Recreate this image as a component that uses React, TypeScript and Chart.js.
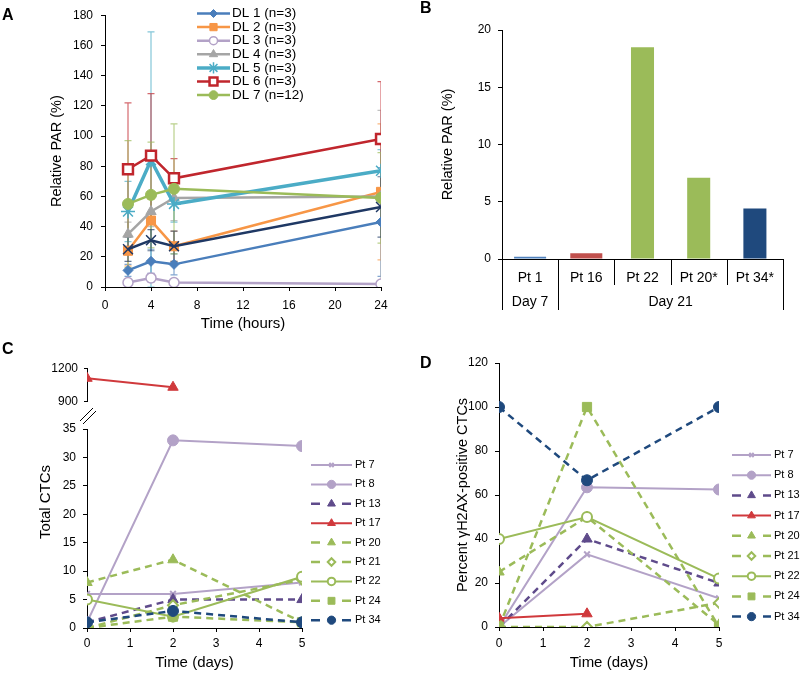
import React, { useEffect, useRef } from 'react';
import { Chart, registerables } from 'chart.js';
import { drawPoint } from 'chart.js/helpers';

Chart.register(...registerables);
const FONT = "'Liberation Sans', Arial, Helvetica, sans-serif";
Chart.defaults.font.family = FONT;
Chart.defaults.color = '#000';

// ---------------- Panel A data ----------------
const hours = [2, 4, 6, 24];
const dlLabels = ['DL 1 (n=3)', 'DL 2 (n=3)', 'DL 3 (n=3)', 'DL 4 (n=3)', 'DL 5 (n=3)', 'DL 6 (n=3)', 'DL 7 (n=12)', 'DL 8'];
const dl1 = [11, 17, 15, 43];
const dl1Err = [4, 8, 7, 36];
const dl2 = [24, 44, 27, 63];
const dl2Err = [10, 14, 10, 45];
const dl3 = [3, 6, 3, 2];
const dl3Err = [1, 3, 1, 2];
const dl4 = [35, 50, 59, 60];
const dl4Err = [8, 10, 15, 57];
const dl5 = [50, 84, 55, 77];
const dl5Err = [20, 85, 12, 14];
const dl6 = [78, 87, 72, 98];
const dl6Err = [44, 41, 13, 38];
const dl7 = [55, 61, 65, 59];
const dl7Err = [42, 35, 43, 30];
const dl8 = [25, 31, 27, 53];
const dl8Err = [8, 7, 10, 20];
const aXRange = [0, 24, 4];
const aYRange = [0, 180, 20];

// ---------------- Panel B data ----------------
const bLabels = ['Pt 1', 'Pt 16', 'Pt 22', 'Pt 20*', 'Pt 34*'];
const bValues = [0.2, 0.5, 18.5, 7.1, 4.4];
const bGroups = [{ label: 'Day 7', span: 1 }, { label: 'Day 21', span: 4 }];
const bYRange = [0, 20, 5];

// ---------------- Panel C / D data ----------------
const days = [0, 2, 5];
const ptLabels = ['Pt 7', 'Pt 8', 'Pt 13', 'Pt 17', 'Pt 20', 'Pt 21', 'Pt 22', 'Pt 24', 'Pt 34'];
const ctcPt7 = [6, 6, 8];
const ctcPt8 = [1, 33, 32];
const ctcPt13 = [1, 5, 5];
const ctcPt17 = [1110, 1030, null];
const ctcPt20 = [8, 12, 1];
const ctcPt21 = [0, 4, 8.5];
const ctcPt22 = [5, 2, 9];
const ctcPt24 = [0, 2, 1];
const ctcPt34 = [1, 3, 1];
const ctcLowRange = [0, 35, 5];
const ctcHighRange = [900, 1200, 300];

const ghPt7 = [0, 33, 13];
const ghPt8 = [0, 63.5, 62.5];
const ghPt13 = [0, 40, 20];
const ghPt17 = [4, 6, null];
const ghPt20 = [25, 50, 1];
const ghPt21 = [0, 0, 11];
const ghPt22 = [40, 50, 22];
const ghPt24 = [0, 100, 0];
const ghPt34 = [100, 66.7, 100];
const dayRange = [0, 5, 1];
const ghRange = [0, 120, 20];

// ---------------- styles ----------------
const aStyles: any[] = [
  { color: '#4A7EBB', fill: '#4A7EBB', point: 'rectRot', r: 5, lw: 2.5, pbw: 1 },
  { color: '#F79646', fill: '#F79646', point: 'rect', r: 6.4, lw: 2.5, pbw: 1 },
  { color: '#B3A2C7', fill: '#FFFFFF', point: 'circle', r: 5, lw: 2.5, pbw: 1.5 },
  { color: '#A5A5A5', fill: '#A5A5A5', point: 'triangle', r: 6, lw: 2.5, pbw: 1 },
  { color: '#4BACC6', fill: '#4BACC6', point: 'star', r: 7, lw: 3.5, pbw: 1.5 },
  { color: '#C0262D', fill: '#FFFFFF', point: 'rect', r: 7, lw: 2.5, pbw: 2.5 },
  { color: '#9BBB59', fill: '#9BBB59', point: 'circle', r: 5.5, lw: 2.5, pbw: 1 },
  { color: '#1F3864', fill: '#1F3864', point: 'crossRot', r: 7, lw: 2.5, pbw: 1.5, noLegend: true },
];
const DASH = [7, 5];
const ptStyles: any[] = [
  { color: '#B3A2C7', fill: '#B3A2C7', point: 'crossRot', r: 4, lw: 2, pbw: 2 },
  { color: '#B3A2C7', fill: '#B3A2C7', point: 'circle', r: 5.5, lw: 2, pbw: 1 },
  { color: '#5F4B8B', fill: '#5F4B8B', point: 'triangle', r: 6, lw: 2.5, pbw: 1, dash: DASH },
  { color: '#D0393C', fill: '#D0393C', point: 'triangle', r: 6, lw: 2, pbw: 1 },
  { color: '#9BBB59', fill: '#9BBB59', point: 'triangle', r: 6, lw: 2.5, pbw: 1, dash: DASH },
  { color: '#9BBB59', fill: '#FFFFFF', point: 'rectRot', r: 5, lw: 2.5, pbw: 2, dash: DASH },
  { color: '#9BBB59', fill: '#FFFFFF', point: 'circle', r: 5, lw: 2, pbw: 2 },
  { color: '#9BBB59', fill: '#9BBB59', point: 'rect', r: 6.5, lw: 2.5, pbw: 1, dash: DASH },
  { color: '#1F497D', fill: '#1F497D', point: 'circle', r: 5.5, lw: 2.5, pbw: 1, dash: DASH },
];
const bColors = ['#4F81BD', '#C0504D', '#9BBB59', '#9BBB59', '#1F497D'];

// ---------------- helpers ----------------
function lineDs(label: string, xs: number[], ys: any[], st: any, i: number, n: number, extra: any = {}) {
  return {
    label,
    data: xs.map((x, k) => ({ x, y: ys[k] })),
    borderColor: st.color,
    backgroundColor: st.fill,
    borderWidth: st.lw,
    borderDash: st.dash || [],
    pointStyle: st.point,
    pointRadius: st.r,
    pointHoverRadius: st.r,
    pointBackgroundColor: st.fill,
    pointBorderColor: st.color,
    pointBorderWidth: st.pbw,
    order: n - i,
    noLegend: !!st.noLegend,
    legendDash: st.dash ? [9, 22] : [],
    tension: 0,
    ...extra,
  };
}

const xlLegend = {
  id: 'xlLegend',
  afterDraw(chart: any, _a: any, o: any) {
    if (!o || o.x === undefined) return;
    const ctx = chart.ctx;
    let k = 0;
    chart.data.datasets.forEach((ds: any) => {
      if (ds.noLegend) return;
      const y = o.y + k * o.spacing;
      k++;
      ctx.save();
      ctx.strokeStyle = ds.borderColor;
      ctx.lineWidth = ds.borderWidth;
      ctx.setLineDash(ds.legendDash || []);
      ctx.beginPath();
      ctx.moveTo(o.x, y);
      ctx.lineTo(o.x + o.lineLen, y);
      ctx.stroke();
      ctx.setLineDash([]);
      ctx.fillStyle = ds.pointBackgroundColor;
      ctx.strokeStyle = ds.pointBorderColor;
      ctx.lineWidth = ds.pointBorderWidth;
      drawPoint(ctx, { pointStyle: ds.pointStyle, radius: ds.pointRadius * o.ptScale, rotation: 0, borderWidth: ds.pointBorderWidth } as any, o.x + o.lineLen / 2, y);
      ctx.fillStyle = '#000';
      ctx.font = `${o.fontSize}px ${FONT}`;
      ctx.textAlign = 'left';
      ctx.textBaseline = 'middle';
      ctx.fillText(ds.label, o.x + o.lineLen + o.gap, y);
      ctx.restore();
    });
  },
};

const errBars = {
  id: 'errBars',
  beforeDatasetsDraw(chart: any) {
    const { ctx, chartArea, scales } = chart;
    const xs = scales.x, ys = scales.y;
    ctx.save();
    ctx.beginPath();
    ctx.rect(chartArea.left, chartArea.top, chartArea.width, chartArea.height);
    ctx.clip();
    chart.data.datasets.forEach((ds: any) => {
      if (!ds.errorBars) return;
      ctx.strokeStyle = ds.errColor;
      ctx.lineWidth = 1.2;
      ds.data.forEach((p: any, i: number) => {
        const e = ds.errorBars[i];
        const px = xs.getPixelForValue(p.x);
        const yt = ys.getPixelForValue(p.y + e);
        const yb = ys.getPixelForValue(Math.max(0, p.y - e));
        ctx.beginPath();
        ctx.moveTo(px, yt); ctx.lineTo(px, yb);
        ctx.moveTo(px - 3.5, yt); ctx.lineTo(px + 3.5, yt);
        ctx.moveTo(px - 3.5, yb); ctx.lineTo(px + 3.5, yb);
        ctx.stroke();
      });
    });
    ctx.restore();
  },
};

const bGroupPlugin = {
  id: 'bGroups',
  afterDraw(chart: any) {
    const { ctx, scales } = chart;
    const x = scales.x;
    const n = bLabels.length;
    const half = (x.getPixelForValue(1) - x.getPixelForValue(0)) / 2;
    const edge = (i: number) => (i === n ? x.getPixelForValue(n - 1) + half : x.getPixelForValue(i) - half);
    const y0 = x.top;
    const groupEdges = new Set<number>([0]);
    let acc = 0;
    bGroups.forEach((g) => { acc += g.span; groupEdges.add(acc); });
    ctx.save();
    ctx.strokeStyle = '#000';
    ctx.lineWidth = 1;
    for (let i = 0; i <= n; i++) {
      const px = Math.round(edge(i)) + 0.5;
      ctx.beginPath();
      ctx.moveTo(px, y0);
      ctx.lineTo(px, y0 + (groupEdges.has(i) ? 51 : 26));
      ctx.stroke();
    }
    ctx.fillStyle = '#000';
    ctx.font = `14px ${FONT}`;
    ctx.textAlign = 'center';
    ctx.textBaseline = 'middle';
    acc = 0;
    bGroups.forEach((g) => {
      ctx.fillText(g.label, (edge(acc) + edge(acc + g.span)) / 2, y0 + 43);
      acc += g.span;
    });
    ctx.restore();
  },
};

const breakPlugin = {
  id: 'breakMarks',
  afterDraw(chart: any) {
    const { ctx, chartArea } = chart;
    const l = chartArea.left, t = chartArea.top;
    ctx.save();
    ctx.strokeStyle = '#000';
    ctx.lineWidth = 1;
    [0, 3].forEach((d) => {
      ctx.beginPath();
      ctx.moveTo(l - 7 + d, t - 8 + d);
      ctx.lineTo(l + 6 + d, t - 21 + d);
      ctx.stroke();
    });
    ctx.restore();
  },
};

const plainTick = (v: any) => String(v);

function yAxis(range: number[], width: number, tickPad: number, title?: any) {
  return {
    type: 'linear',
    min: range[0],
    max: range[1],
    ticks: { stepSize: range[2], font: { size: 12 }, padding: tickPad, color: '#000', callback: plainTick },
    grid: { drawOnChartArea: false, drawTicks: true, tickLength: 4, color: '#000' },
    border: { display: true, color: '#000', width: 1 },
    title: title || { display: false },
    afterFit: (s: any) => { s.width = width; },
  };
}
function xAxis(range: number[], height: number, tickPad: number, title?: any) {
  return {
    type: 'linear',
    min: range[0],
    max: range[1],
    ticks: { stepSize: range[2], font: { size: 12 }, padding: tickPad, color: '#000', callback: plainTick },
    grid: { drawOnChartArea: false, drawTicks: true, tickLength: 4, color: '#000' },
    border: { display: true, color: '#000', width: 1 },
    title: title || { display: false },
    afterFit: (s: any) => { s.height = height; },
  };
}
const baseOpts = {
  responsive: false,
  animation: false,
  devicePixelRatio: 1,
  events: [],
};

// ---------------- chart builders ----------------
function buildA() {
  const series = [dl1, dl2, dl3, dl4, dl5, dl6, dl7, dl8];
  const errs = [dl1Err, dl2Err, dl3Err, dl4Err, dl5Err, dl6Err, dl7Err, dl8Err];
  const n = series.length;
  const datasets = series.map((s, i) =>
    lineDs(dlLabels[i], hours, s, aStyles[i], i, n, { errorBars: errs[i], errColor: aStyles[i].color + 'B0' })
  );
  return {
    type: 'line',
    data: { datasets },
    plugins: [errBars, xlLegend],
    options: {
      ...baseOpts,
      layout: { padding: { top: 15, right: 19, bottom: 0, left: 0 } },
      scales: {
        x: xAxis(aXRange, 48, 7, { display: true, text: 'Time (hours)', font: { size: 15 }, padding: { top: 0, bottom: 2 } }),
        y: yAxis(aYRange, 105, 8, { display: true, text: 'Relative PAR (%)', font: { size: 14.5 }, padding: { top: 48, bottom: 0 } }),
      },
      plugins: {
        legend: { display: false },
        tooltip: { enabled: false },
        xlLegend: { x: 197, y: 13.5, spacing: 13.6, lineLen: 33, gap: 2, fontSize: 13.5, ptScale: 0.8 },
      },
    },
  };
}

function buildB() {
  const wide = bValues.map((v, i) => (i < bGroups[0].span + 1 ? v : null));
  const narrow = bValues.map((v, i) => (i >= bGroups[0].span + 1 ? v : null));
  return {
    type: 'bar',
    data: {
      labels: bLabels,
      datasets: [
        { label: 'a', data: wide, backgroundColor: bColors, barPercentage: 0.57, categoryPercentage: 1, grouped: false },
        { label: 'b', data: narrow, backgroundColor: bColors, barPercentage: 0.41, categoryPercentage: 1, grouped: false },
      ],
    },
    plugins: [bGroupPlugin],
    options: {
      ...baseOpts,
      layout: { padding: { top: 30, right: 17, bottom: 0, left: 0 } },
      scales: {
        x: {
          type: 'category',
          ticks: { font: { size: 14 }, padding: 11, color: '#000' },
          grid: { display: false, drawTicks: false },
          border: { display: true, color: '#000', width: 1 },
          afterFit: (s: any) => { s.height = 76; },
        },
        y: yAxis(bYRange, 102, 7, { display: true, text: 'Relative PAR (%)', font: { size: 14.5 }, padding: { top: 39, bottom: 0 } }),
      },
      plugins: { legend: { display: false }, tooltip: { enabled: false } },
    },
  };
}

const ctcSeries = [ctcPt7, ctcPt8, ctcPt13, ctcPt17, ctcPt20, ctcPt21, ctcPt22, ctcPt24, ctcPt34];
const ghSeries = [ghPt7, ghPt8, ghPt13, ghPt17, ghPt20, ghPt21, ghPt22, ghPt24, ghPt34];

function buildCTop() {
  const i = ptLabels.indexOf('Pt 17');
  return {
    type: 'line',
    data: { datasets: [lineDs(ptLabels[i], days, ctcSeries[i], ptStyles[i], 0, 1)] },
    options: {
      ...baseOpts,
      layout: { padding: { top: 12, right: 98, bottom: 10, left: 0 } },
      scales: {
        x: { type: 'linear', display: false, min: dayRange[0], max: dayRange[1] },
        y: { ...yAxis(ctcHighRange, 87, 6), grid: { drawOnChartArea: false, drawTicks: true, tickLength: 3, color: '#000' } },
      },
      plugins: { legend: { display: false }, tooltip: { enabled: false } },
    },
  };
}

function buildCBottom() {
  const n = ctcSeries.length;
  return {
    type: 'line',
    data: { datasets: ctcSeries.map((s, i) => lineDs(ptLabels[i], days, s, ptStyles[i], i, n)) },
    plugins: [xlLegend, breakPlugin],
    options: {
      ...baseOpts,
      layout: { padding: { top: 29, right: 98, bottom: 0, left: 0 } },
      scales: {
        x: xAxis(dayRange, 45, 4, { display: true, text: 'Time (days)', font: { size: 15 }, padding: { top: 0, bottom: 1 } }),
        y: yAxis(ctcLowRange, 87, 7),
      },
      plugins: {
        legend: { display: false },
        tooltip: { enabled: false },
        xlLegend: { x: 311, y: 65, spacing: 19.4, lineLen: 41, gap: 3, fontSize: 11, ptScale: 0.75 },
      },
    },
  };
}

function buildD() {
  const n = ghSeries.length;
  return {
    type: 'line',
    data: { datasets: ghSeries.map((s, i) => lineDs(ptLabels[i], days, s, ptStyles[i], i, n)) },
    plugins: [xlLegend],
    options: {
      ...baseOpts,
      layout: { padding: { top: 28, right: 81, bottom: 0, left: 0 } },
      scales: {
        x: xAxis(dayRange, 46, 5, { display: true, text: 'Time (days)', font: { size: 15 }, padding: { top: 0, bottom: 1 } }),
        y: yAxis(ghRange, 99, 7, { display: true, text: 'Percent \u03b3H2AX-positive CTCs', font: { size: 14.5 }, padding: { top: 54, bottom: 0 } }),
      },
      plugins: {
        legend: { display: false },
        tooltip: { enabled: false },
        xlLegend: { x: 332, y: 120, spacing: 20.2, lineLen: 39, gap: 3, fontSize: 11, ptScale: 0.75 },
      },
    },
  };
}

function ChartCanvas({ left, top, width, height, build }: any) {
  const ref = useRef<HTMLCanvasElement>(null);
  useEffect(() => {
    const chart = new Chart(ref.current as HTMLCanvasElement, build() as any);
    return () => chart.destroy();
  }, []);
  return (
    <div style={{ position: 'absolute', left, top, width, height }}>
      <canvas ref={ref} width={width} height={height} style={{ display: 'block', width, height }} />
    </div>
  );
}

const letterStyle: any = { position: 'absolute', fontFamily: FONT, fontWeight: 'bold', fontSize: 16, lineHeight: '16px', color: '#000' };

export default function App() {
  return (
    <div style={{ position: 'absolute', left: 0, top: 0, width: 800, height: 673, overflow: 'hidden', background: '#fff' }}>
      <ChartCanvas left={0} top={0} width={400} height={335} build={buildA} />
      <ChartCanvas left={400} top={0} width={400} height={335} build={buildB} />
      <ChartCanvas left={0} top={355} width={400} height={60} build={buildCTop} />
      <ChartCanvas left={0} top={400} width={400} height={273} build={buildCBottom} />
      <ChartCanvas left={400} top={335} width={400} height={338} build={buildD} />
      <div
        style={{
          position: 'absolute', left: 45 - 70, top: 502 - 10, width: 140, height: 20, lineHeight: '20px',
          textAlign: 'center', fontFamily: FONT, fontSize: 15, color: '#000', transform: 'rotate(-90deg)',
        }}
      >
        Total CTCs
      </div>
      <div style={{ ...letterStyle, left: 2, top: 7 }}>A</div>
      <div style={{ ...letterStyle, left: 420, top: 0 }}>B</div>
      <div style={{ ...letterStyle, left: 2, top: 341 }}>C</div>
      <div style={{ ...letterStyle, left: 420, top: 355 }}>D</div>
    </div>
  );
}
